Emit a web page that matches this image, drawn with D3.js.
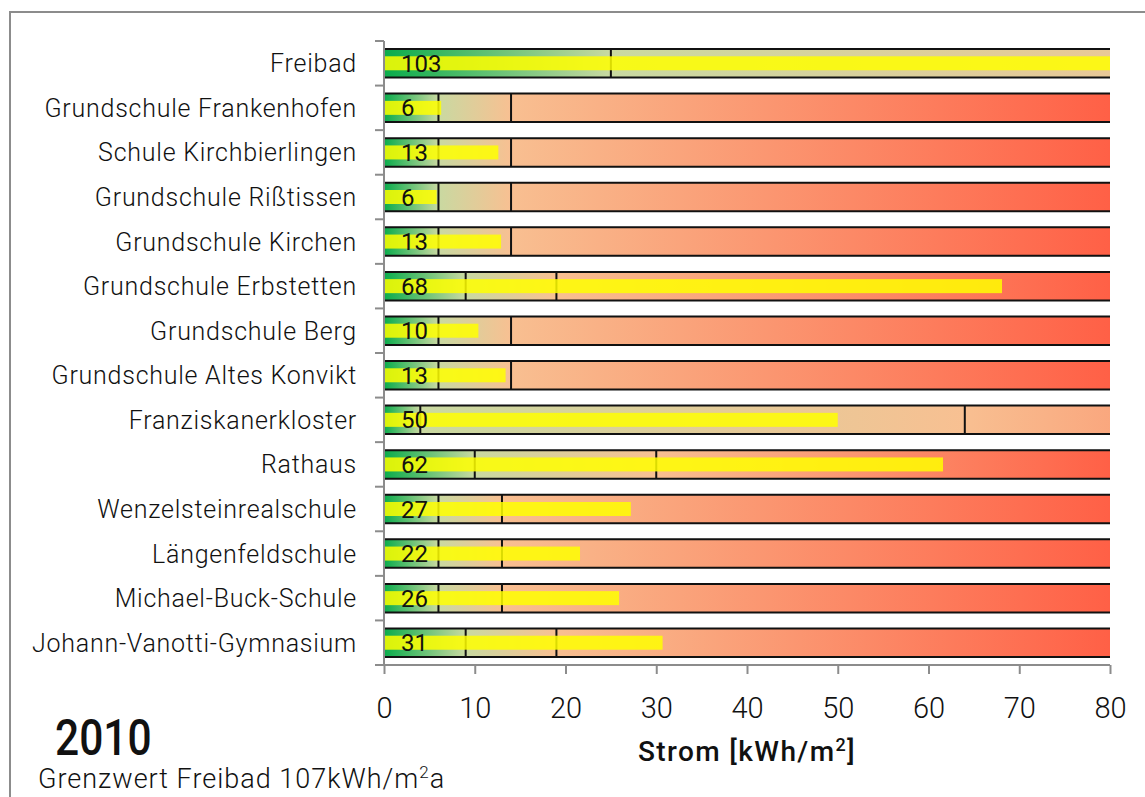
<!DOCTYPE html>
<html>
<head>
<meta charset="utf-8">
<script src="https://cdn.jsdelivr.net/npm/d3@7"></script>
<style>
  html, body { margin: 0; padding: 0; background: #fff; }
  svg { display: block; }
  text { font-family: Roboto, "Noto Sans", sans-serif; }
</style>
</head>
<body>
<svg id="chart" width="1145" height="797"></svg>
<script>
// Buildings, measured electricity use (kWh/m²) and benchmark bands
const categories = [
  "Freibad", "Grundschule Frankenhofen", "Schule Kirchbierlingen", "Grundschule Rißtissen",
  "Grundschule Kirchen", "Grundschule Erbstetten", "Grundschule Berg", "Grundschule Altes Konvikt",
  "Franziskanerkloster", "Rathaus", "Wenzelsteinrealschule", "Längenfeldschule",
  "Michael-Buck-Schule", "Johann-Vanotti-Gymnasium"
];
const values     = [103, 6.3, 12.6, 5.8, 12.9, 68.1, 10.4, 13.4, 50.0, 61.6, 27.2, 21.6, 25.9, 30.7];
const goodLimit  = [25, 6, 6, 6, 6, 9, 6, 6, 4, 10, 6, 6, 6, 9];        // Zielwert
const limitValue = [107, 14, 14, 14, 14, 19, 14, 14, 64, 30, 13, 13, 13, 19]; // Grenzwert
const rangeMax   = [200, 80, 80, 80, 80, 80, 80, 80, 128, 80, 80, 80, 80, 80];
const xTicks     = [0, 10, 20, 30, 40, 50, 60, 70, 80];

const svg = d3.select("#chart");
const margin = { top: 41, right: 35, bottom: 132, left: 384 };
const W = +svg.attr("width"), H = +svg.attr("height");
const innerW = W - margin.left - margin.right;
const innerH = H - margin.top - margin.bottom;

// outer frame
svg.append("rect")
  .attr("x", 10).attr("y", 12).attr("width", 1200).attr("height", 900)
  .attr("fill", "none").attr("stroke", "#8c8c8c").attr("stroke-width", 2);

const x = d3.scaleLinear().domain([0, 80]).range([0, innerW]);
const y = d3.scaleBand().domain(categories).range([0, innerH])
  .paddingInner(0.36).paddingOuter(0.18);

const defs = svg.append("defs");
function grad(id, stops) {
  const g = defs.append("linearGradient").attr("id", id)
    .attr("x1", "0%").attr("x2", "100%").attr("y1", "0%").attr("y2", "0%");
  stops.forEach(([o, c]) => g.append("stop").attr("offset", o).attr("stop-color", c));
}
grad("gGood", [["0%", "#0aac4c"], ["100%", "#c9d9a1"]]);
grad("gMid",  [["0%", "#c9d9a1"], ["100%", "#f8c092"]]);
grad("gBad",  [["0%", "#f8bf91"], ["100%", "#ff6046"]]);

defs.append("clipPath").attr("id", "plotClip")
  .append("rect").attr("x", 0).attr("y", -5).attr("width", x(80)).attr("height", innerH + 10);

const g = svg.append("g").attr("transform", `translate(${margin.left},${margin.top})`);
const plot = g.append("g").attr("clip-path", "url(#plotClip)");

const rows = categories.map((c, i) => ({
  name: c, value: values[i], r1: goodLimit[i], r2: limitValue[i], r3: rangeMax[i]
}));

const row = plot.selectAll("g.row").data(rows).join("g")
  .attr("class", "row")
  .attr("transform", d => `translate(0,${y(d.name)})`);

const bh = y.bandwidth();

// background bands
row.append("rect").attr("x", d => x(d.r2)).attr("width", d => x(d.r3) - x(d.r2))
  .attr("height", bh).attr("fill", "url(#gBad)");
row.append("rect").attr("x", d => x(d.r1)).attr("width", d => x(d.r2) - x(d.r1))
  .attr("height", bh).attr("fill", "url(#gMid)");
row.append("rect").attr("x", 0).attr("width", d => x(d.r1))
  .attr("height", bh).attr("fill", "url(#gGood)");

// band outlines
row.append("path")
  .attr("fill", "none").attr("stroke", "#111").attr("stroke-width", 2)
  .attr("d", d => {
    const xe = Math.min(x(d.r3), x(80) + 2);
    let p = `M0,0H${xe}M0,${bh}H${xe}`;
    [d.r1, d.r2].forEach(v => { if (v < 80) p += `M${x(v)},0V${bh}`; });
    return p;
  });

// measured value bar
const vh = 14;
row.append("rect")
  .attr("x", 0).attr("y", (bh - vh) / 2)
  .attr("width", d => x(d.value)).attr("height", vh)
  .attr("fill", "#ffff00").attr("fill-opacity", 0.85);

// value labels
g.selectAll("text.val").data(rows).join("text")
  .attr("class", "val")
  .attr("x", 17).attr("y", d => y(d.name) + bh / 2 + 8.5)
  .attr("font-size", 24).attr("font-weight", 400).attr("fill", "#111")
  .text(d => d3.format(".0f")(d.value));

// y axis: line, boundary ticks, labels
const axisColor = "#8c8c8c";
g.append("line").attr("x1", 0).attr("x2", 0).attr("y1", 0).attr("y2", innerH)
  .attr("stroke", axisColor).attr("stroke-width", 2);
const step = y.step();
g.selectAll("line.ytick").data(d3.range(categories.length + 1)).join("line")
  .attr("class", "ytick")
  .attr("x1", -9).attr("x2", 0)
  .attr("y1", i => i * step).attr("y2", i => i * step)
  .attr("stroke", axisColor).attr("stroke-width", 2);
g.selectAll("text.cat").data(categories).join("text")
  .attr("class", "cat")
  .attr("x", -27).attr("y", d => y(d) + bh / 2 + 9)
  .attr("text-anchor", "end").attr("font-size", 25).attr("font-weight", 300)
  .attr("letter-spacing", 0.75).attr("fill", "#111")
  .text(d => d);

// x axis
const xAxis = g.append("g").attr("transform", `translate(0,${innerH})`)
  .call(d3.axisBottom(x).tickValues(xTicks).tickSize(9).tickPadding(23).tickFormat(d3.format("d")));
xAxis.select(".domain").attr("stroke", axisColor).attr("stroke-width", 2)
  .attr("d", `M0,0H${x(80)}`);
xAxis.selectAll(".tick line").attr("stroke", axisColor).attr("stroke-width", 2);
xAxis.selectAll(".tick text").attr("font-size", 29).attr("font-weight", 300).attr("fill", "#111")
  .attr("font-family", "Roboto, sans-serif");

// axis title
svg.append("text")
  .attr("x", margin.left + innerW / 2).attr("y", 761)
  .attr("text-anchor", "middle").attr("font-size", 28).attr("font-weight", 500)
  .attr("letter-spacing", 1.4).attr("fill", "#111")
  .html('Strom [kWh/m<tspan baseline-shift="super" font-size="18">2</tspan>]');

// year and note
svg.append("text").attr("transform", "translate(55,755) scale(0.85,1)")
  .attr("font-size", 50).attr("font-weight", 500).attr("fill", "#111").text("2010");
svg.append("text").attr("x", 38).attr("y", 788)
  .attr("font-size", 27).attr("font-weight", 300).attr("letter-spacing", 1).attr("fill", "#111")
  .html('Grenzwert Freibad 107kWh/m<tspan baseline-shift="super" font-size="17">2</tspan>a');
</script>
</body>
</html>
